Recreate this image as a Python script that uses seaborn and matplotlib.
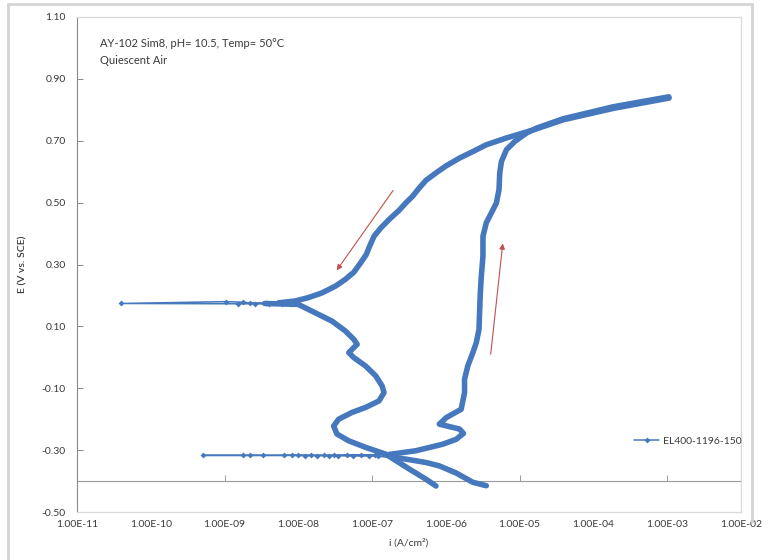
import matplotlib
matplotlib.use("Agg")
import matplotlib.pyplot as plt
import seaborn as sns
from matplotlib.lines import Line2D
from matplotlib.ticker import FixedLocator, FuncFormatter, LogLocator, NullFormatter

# ---- polarisation scan data: current density i (A/cm^2) and potential E (V vs. SCE) ----
# forward scan, cathodic part (start potential up to the lower current minimum)
fwd_cath_i = [3.53e-6, 2.32e-6, 1.38e-6, 8.15e-7, 5.37e-7, 2.86e-7, 1.88e-7]
fwd_cath_e = [-0.415, -0.404, -0.374, -0.351, -0.340, -0.329, -0.324]

# forward scan, sparse readings where |i| collapses near the corrosion potential
fwd_zero_i = [1.88e-7, 1.2e-7, 9.0e-8, 5.5e-8, 3.5e-8, 2.6e-8, 1.8e-8, 1.25e-8,
              8.1e-9, 3.3e-9, 1.8e-9, 5.1e-10, 2.2e-9, 6.3e-9, 1.0e-8, 1.5e-8,
              2.2e-8, 3.0e-8, 4.5e-8, 7.0e-8, 1.1e-7, 1.7e-7]
fwd_zero_e = [-0.324, -0.320, -0.319, -0.319, -0.318, -0.318, -0.318, -0.318,
              -0.317, -0.317, -0.317, -0.317, -0.317, -0.317, -0.316, -0.316,
              -0.316, -0.316, -0.315, -0.315, -0.315, -0.314]

# forward scan, anodic part up to the vertex
fwd_anod_i = [1.7e-7, 3.92e-7, 9.03e-7, 1.38e-6, 1.73e-6, 1.53e-6, 8.15e-7, 1.01e-6,
              1.61e-6, 1.79e-6, 1.79e-6, 1.98e-6, 2.32e-6, 2.58e-6, 2.81e-6, 2.86e-6,
              2.93e-6, 3.02e-6, 3.18e-6, 3.18e-6, 3.53e-6, 4.14e-6, 4.84e-6, 5.25e-6,
              5.37e-6, 5.66e-6, 6.62e-6, 8.61e-6, 1.24e-5, 1.70e-5, 3.88e-5, 1.87e-4,
              1.05e-3]
fwd_anod_e = [-0.314, -0.302, -0.281, -0.265, -0.246, -0.232, -0.216, -0.195,
              -0.168, -0.114, -0.071, -0.028, 0.015, 0.047, 0.090, 0.144,
              0.209, 0.262, 0.327, 0.391, 0.435, 0.467, 0.499, 0.542,
              0.596, 0.633, 0.671, 0.698, 0.725, 0.741, 0.771, 0.810,
              0.842]

# reverse scan, from the vertex down to the upper current minimum
rev_i = [1.06e-3, 1.89e-4, 3.93e-5, 1.53e-5, 6.62e-6, 3.53e-6, 2.32e-6, 1.53e-6,
         1.01e-6, 7.34e-7, 5.37e-7, 4.34e-7, 3.52e-7, 2.86e-7, 2.32e-7, 1.69e-7,
         1.31e-7, 1.06e-7, 9.25e-8, 8.32e-8, 6.97e-8, 5.65e-8, 4.34e-8, 3.18e-8,
         2.08e-8, 1.37e-8, 9.04e-9, 5.36e-9]
rev_e = [0.838, 0.805, 0.768, 0.735, 0.709, 0.687, 0.665, 0.644,
         0.619, 0.596, 0.572, 0.547, 0.520, 0.499, 0.475, 0.445,
         0.418, 0.391, 0.359, 0.332, 0.305, 0.275, 0.252, 0.230,
         0.208, 0.193, 0.182, 0.176]

# reverse scan, sparse readings near the repassivation potential
rev_zero_i = [5.36e-9, 3.67e-9, 2.2e-9, 1.8e-9, 1.05e-9, 3.9e-11, 1.5e-9, 2.6e-9,
              4.0e-9, 6.0e-9, 8.0e-9, 1.0e-8]
rev_zero_e = [0.176, 0.176, 0.176, 0.178, 0.180, 0.174, 0.173, 0.173,
              0.172, 0.172, 0.171, 0.171]

# reverse scan, cathodic return to the end potential
rev_cath_i = [3.5e-9, 1.0e-8, 1.69e-8, 2.86e-8, 4.34e-8, 5.65e-8, 6.27e-8, 5.36e-8,
              4.83e-8, 5.65e-8, 8.15e-8, 1.12e-7, 1.37e-7, 1.45e-7, 1.24e-7, 8.15e-8,
              5.36e-8, 3.52e-8, 3.01e-8, 3.34e-8, 4.83e-8, 8.15e-8, 1.53e-7, 3.18e-7,
              5.37e-7, 7.34e-7]
rev_cath_e = [0.174, 0.171, 0.144, 0.117, 0.085, 0.058, 0.042, 0.026,
              0.015, -0.001, -0.028, -0.060, -0.093, -0.114, -0.141, -0.162,
              -0.178, -0.200, -0.222, -0.248, -0.270, -0.291, -0.313, -0.361,
              -0.394, -0.416]

# scan-direction arrows: (i, E) of tail and head
arrow_down = [(1.92e-7, 0.539), (3.31e-8, 0.281)]
arrow_up = [(4.05e-6, 0.010), (5.9e-6, 0.368)]

series_name = "EL400-1196-150"
title_lines = ["AY-102 Sim8, pH= 10.5, Temp= 50\u00b0C", "Quiescent Air"]
x_ticks = [1e-11, 1e-10, 1e-9, 1e-8, 1e-7, 1e-6, 1e-5, 1e-4, 1e-3, 1e-2]
y_ticks = [-0.50, -0.30, -0.10, 0.10, 0.30, 0.50, 0.70, 0.90, 1.10]
x_axis_cross = -0.40

# ---- styling ----
sns.set_theme(style="white")
plt.rcParams["font.family"] = ["Lato", "DejaVu Sans"]
BLUE = "#4578bd"
TXT = "#3a3a3a"

fig = plt.figure(figsize=(7.69, 5.60), dpi=100)
ax = fig.add_axes([77 / 769, 1 - 512 / 560, 664 / 769, 495 / 560])

thin = dict(color=BLUE, lw=1.1, marker="D", markersize=3, markeredgewidth=0,
            sort=False, estimator=None, legend=False, ax=ax)
thick = dict(color=BLUE, lw=4.0, sort=False, estimator=None, legend=False, ax=ax,
             solid_capstyle="round", solid_joinstyle="round")

sns.lineplot(x=fwd_zero_i, y=fwd_zero_e, **thin)
sns.lineplot(x=rev_zero_i, y=rev_zero_e, **thin)
sns.lineplot(x=fwd_cath_i, y=fwd_cath_e, **thick)
sns.lineplot(x=fwd_anod_i, y=fwd_anod_e, **thick)
sns.lineplot(x=rev_i, y=rev_e, **thick)
sns.lineplot(x=rev_cath_i, y=rev_cath_e, **thick)

ax.set_xscale("log")
ax.set_xlim(x_ticks[0], x_ticks[-1])
ax.set_ylim(y_ticks[0], y_ticks[-1])

# tick labels sit at the plot bottom; the horizontal axis line crosses at E = -0.40
ax.xaxis.set_major_locator(FixedLocator(x_ticks))
ax.xaxis.set_minor_locator(FixedLocator([]))
ax.xaxis.set_major_formatter(FuncFormatter(lambda v, p: f"{v:.2E}"))
ax.yaxis.set_major_locator(FixedLocator(y_ticks))
ax.yaxis.set_major_formatter(FuncFormatter(lambda v, p: f"{v:.2f}"))
ax.tick_params(axis="x", length=0, labelsize=7.5, labelcolor=TXT, pad=6)
ax.tick_params(axis="y", direction="in", length=4, width=0.7, color="#8a8a8a",
               labelsize=7.5, labelcolor=TXT, pad=8)
ax.tick_params(left=True)

for side in ("top", "right", "bottom"):
    ax.spines[side].set_color("#d9d9d9")
    ax.spines[side].set_linewidth(0.9)
ax.spines["left"].set_color("#8a8a8a")
ax.spines["left"].set_linewidth(0.8)

frac = (x_axis_cross - y_ticks[0]) / (y_ticks[-1] - y_ticks[0])
sec = ax.secondary_xaxis(frac)
sec.xaxis.set_major_locator(LogLocator(base=10))
sec.xaxis.set_minor_locator(LogLocator(base=10, subs=range(2, 10)))
sec.xaxis.set_major_formatter(NullFormatter())
sec.xaxis.set_minor_formatter(NullFormatter())
sec.tick_params(which="major", direction="in", length=4, width=0.6, color="#8a8a8a")
sec.tick_params(which="minor", direction="in", length=3, width=0.5, color="#8a8a8a")
for sp in sec.spines.values():
    sp.set_color("#9a9a9a")
    sp.set_linewidth(0.8)

ax.set_xlabel("i (A/cm\u00b2)", fontsize=7.5, color=TXT, labelpad=6)
ax.set_ylabel("E (V vs. SCE)", fontsize=7.5, color=TXT, labelpad=10,
              fontweight="semibold")

ax.text(0.035, 0.947, title_lines[0], transform=ax.transAxes, fontsize=8,
        color=TXT, va="center", ha="left")
ax.text(0.035, 0.913, title_lines[1], transform=ax.transAxes, fontsize=8,
        color=TXT, va="center", ha="left")

for (x0, y0), (x1, y1) in (arrow_down, arrow_up):
    ax.annotate("", xy=(x1, y1), xytext=(x0, y0),
                arrowprops=dict(arrowstyle="-|>", color="#c0504d", lw=0.8,
                                mutation_scale=8, shrinkA=0, shrinkB=0))

handle = Line2D([], [], color=BLUE, lw=1.1, marker="D", markersize=3, markeredgewidth=0)
ax.legend([handle], [series_name], loc="center left", bbox_to_anchor=(0.825, 0.143),
          frameon=False, fontsize=7.5, handlelength=2.4, handletextpad=0.4,
          labelcolor=TXT)

# chart-area border
top = 1 - 4 / 560
low = 1 - 522 / 560
for xs, ys in (([8 / 769, 8 / 769], [0.0, top]),
               ([8 / 769, 752 / 769], [top, top]),
               ([752 / 769, 752 / 769], [low, top])):
    fig.add_artist(Line2D(xs, ys, transform=fig.transFigure, color="#d4d4d4", lw=2))

fig.savefig("out.png", dpi=100, facecolor="white")
